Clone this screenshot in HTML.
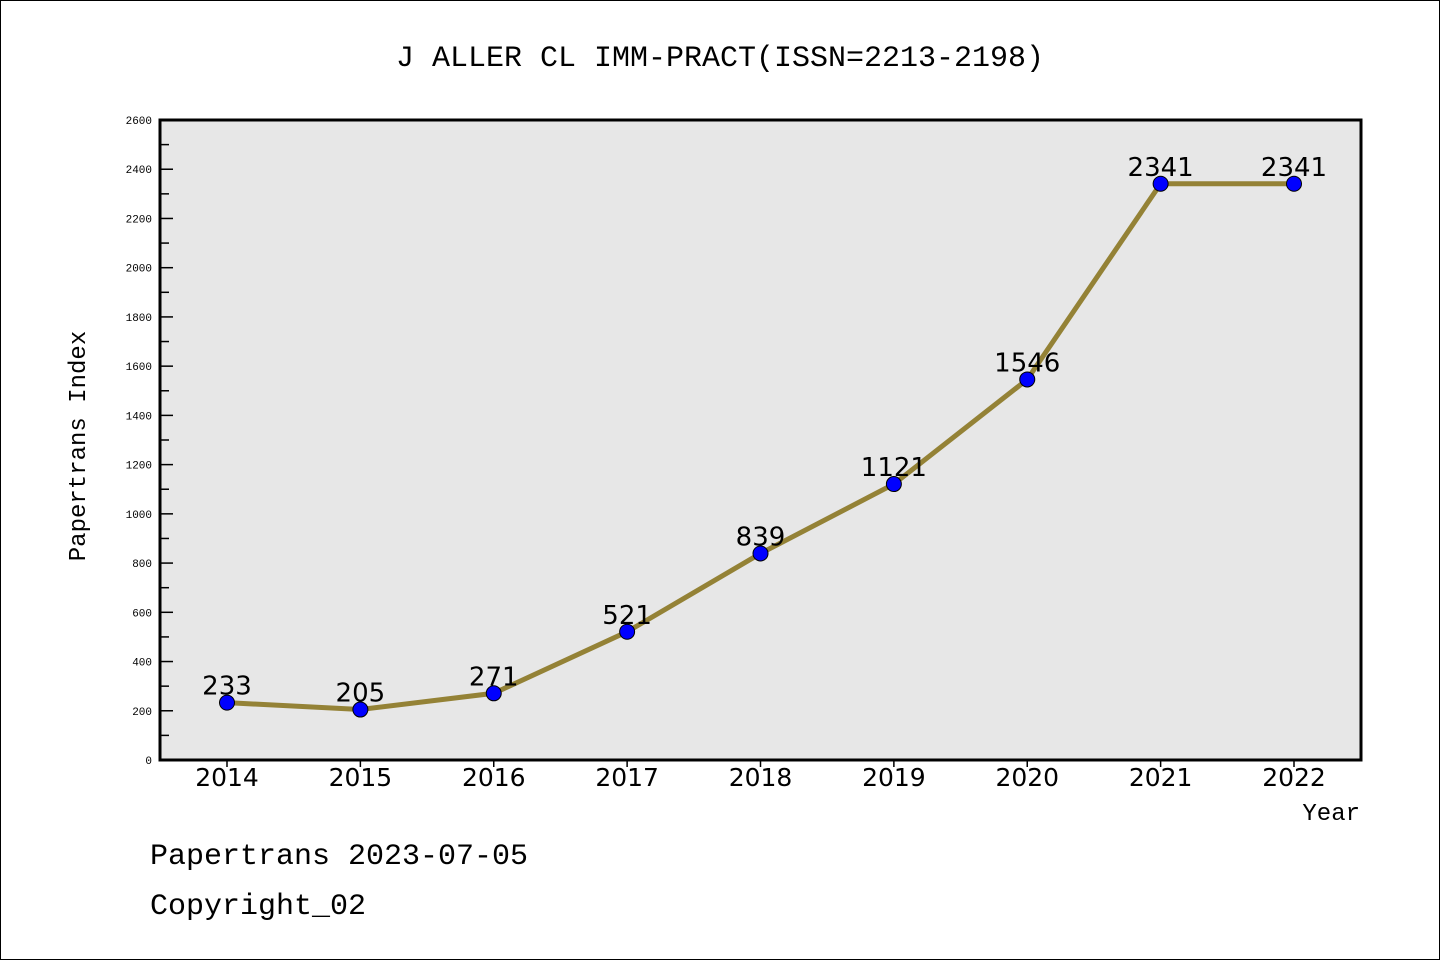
<!DOCTYPE html>
<html><head><meta charset="utf-8"><style>
body{margin:0;background:#fff}
svg text{font-family:"Liberation Mono","DejaVu Sans Mono",monospace}
</style></head><body>
<svg id="chart" width="1440" height="960" xmlns="http://www.w3.org/2000/svg">
<rect x="0.5" y="0.5" width="1439" height="959" fill="#fff" stroke="#000"/>
<text x="720" y="66" font-size="30" text-anchor="middle">J ALLER CL IMM-PRACT(ISSN=2213-2198)</text>
<rect x="160" y="120" width="1201" height="640" fill="#e7e7e7" stroke="#000" stroke-width="3"/>
<g id="yaxis"></g>
<g id="xaxis"></g>
<g id="series"></g>
<text x="85" y="446" font-size="24" text-anchor="middle" transform="rotate(-90 85 446)">Papertrans Index</text>
<text x="1360" y="820" font-size="24" text-anchor="end">Year</text>
<text x="150" y="864" font-size="30">Papertrans 2023-07-05</text>
<text x="150" y="914" font-size="30">Copyright_02</text>
</svg>
<script>
const categories=["2014","2015","2016","2017","2018","2019","2020","2021","2022"];
const values=[233,205,271,521,839,1121,1546,2341,2341];
const yTicks=[0,200,400,600,800,1000,1200,1400,1600,1800,2000,2200,2400,2600];
const NS="http://www.w3.org/2000/svg";
const x0=227,xStep=(1294-227)/8,yBase=760,yTop=120,yMax=2600;
const xs=i=>x0+i*xStep, ys=v=>yBase-(v/yMax)*(yBase-yTop);
function mk(tag,attrs,parent,txt){const e=document.createElementNS(NS,tag);for(const k in attrs)e.setAttribute(k,attrs[k]);if(txt!==undefined)e.textContent=txt;parent.appendChild(e);return e;}
const ya=document.getElementById('yaxis'),xa=document.getElementById('xaxis'),sg=document.getElementById('series');
yTicks.forEach(t=>{
 const y=ys(t);
 const l=mk('line',{x1:160,x2:173,y1:y,y2:y,stroke:'#000','stroke-width':1.5},ya);
 
 
 const tx=mk('text',{x:152,y:y+4,'font-size':11,'text-anchor':'end',font:'11px "DejaVu Sans",sans-serif'},ya,String(t));
 
 
 if(t<yMax){const m=ys(t+100);
  const ml=mk('line',{x1:160,x2:169,y1:m,y2:m,stroke:'#000','stroke-width':1.5},ya);
  
  }
});
categories.forEach((c,i)=>{
 const x=xs(i);
 const l=mk('line',{x1:x,x2:x,y1:760,y2:767,stroke:'#000','stroke-width':1.5},xa);
 
 
 const tx=mk('text',{x:x,y:786,'font-size':25,'text-anchor':'middle',style:'font-family:"DejaVu Sans",sans-serif'},xa,c);
 
 
});
const pts=values.map((v,i)=>xs(i)+','+ys(v)).join(' ');
const pl=mk('polyline',{points:pts,fill:'none',stroke:'#948236','stroke-width':5},sg);


values.forEach((v,i)=>{
 const c=mk('circle',{cx:xs(i),cy:ys(v),r:7.5,fill:'#0000ff',stroke:'#000','stroke-width':1},sg);
 
 
 const t=mk('text',{x:xs(i),y:ys(v)-8,'font-size':26,'text-anchor':'middle',style:'font-family:"DejaVu Sans",sans-serif'},sg,String(v));
 
 
});
</script>
</body></html>
